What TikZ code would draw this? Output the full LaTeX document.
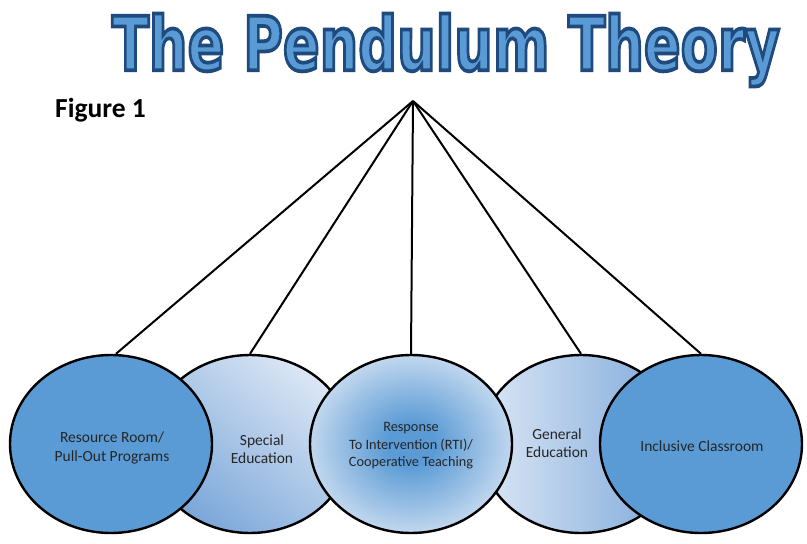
\documentclass[tikz,border=0pt]{standalone}
\usepackage{fontspec}
\setmainfont{Carlito}
\newfontfamily\titlefont{DejaVu Sans}
\usetikzlibrary{shapes.geometric}
\definecolor{accent}{HTML}{5B9BD5}
\definecolor{lightblue}{HTML}{DCE7F5}
\definecolor{midblue}{HTML}{7AA6D9}
\definecolor{titleline}{HTML}{1F4A7C}
\definecolor{txt}{HTML}{262626}
\pgfdeclareradialshading{rtishade}{\pgfpoint{0bp}{0bp}}{color(0bp)=(accent); color(6bp)=(accent); color(30bp)=(lightblue); color(50bp)=(lightblue)}
\newcommand\outlinedtext[1]{\special{pdf:literal direct 2 Tr 3 w 0.12 0.29 0.49 RG}#1\special{pdf:literal direct 0 Tr}}
\begin{document}
\begin{tikzpicture}[x=1pt,y=-1pt]
\tikzset{
  pend/.style={ellipse, draw=black, line width=2.4pt, inner sep=0pt, minimum width=202pt, minimum height=178pt},
  rope/.style={draw=black, line width=2pt},
  lbl/.style={font=\fontsize{15.5}{18.5}\selectfont, text=txt, align=center},
  lblsmall/.style={font=\fontsize{14.3}{17.5}\selectfont, text=txt, align=center}
}
\useasboundingbox (0,0) rectangle (807,544);
\fill[white] (0,0) rectangle (807,544);
\node[anchor=center, inner sep=0pt] (title) at (446,50) {\color{accent}\resizebox*{668pt}{73pt}{\titlefont\fontsize{60}{66}\selectfont\bfseries\outlinedtext{The Pendulum Theory}}};
\node[anchor=base west, inner sep=0pt, font=\fontsize{27.5}{30}\selectfont\bfseries, text=black] (fig) at (55,117) {Figure 1};
\coordinate (apex) at (413,101);
% ellipse positions
\path (250,444) coordinate (p2) (581,444) coordinate (p4) (111,444) coordinate (p1) (411,444) coordinate (p3) (701,444) coordinate (p5);
% ropes behind
\node[pend, draw=none] (e1) at (p1) {};
\node[pend, draw=none] (e2) at (p2) {};
\node[pend, draw=none] (e3) at (p3) {};
\node[pend, draw=none] (e4) at (p4) {};
\node[pend, draw=none] (e5) at (p5) {};
\draw[rope] (apex) -- ([xshift=5pt]e1.north);
\draw[rope] (apex) -- (e2.north);
\draw[rope] (apex) -- (e3.north);
\draw[rope] (apex) -- (e4.north);
\draw[rope] (apex) -- (e5.north);
% ellipses
\node[pend, top color=lightblue, bottom color=midblue, shading angle=-40] at (p2) {};
\node[pend, left color=lightblue, right color=midblue] at (p4) {};
\node[pend, fill=accent] at (p1) {};
\node[pend, shading=rtishade] at (p3) {};
\node[pend, fill=accent] at (p5) {};
% labels
\node[lbl] (t1) at (112,448) {Resource Room/\\Pull-Out Programs};
\node[lbl] (t2) at (262,449) {Special\\Education};
\node[lblsmall] (t3) at (411,446) {Response\\To Intervention (RTI)/\\Cooperative Teaching};
\node[lbl] (t4) at (557,443) {General\\Education};
\node[lbl] (t5) at (702,446) {Inclusive Classroom};
\end{tikzpicture}
\end{document}
